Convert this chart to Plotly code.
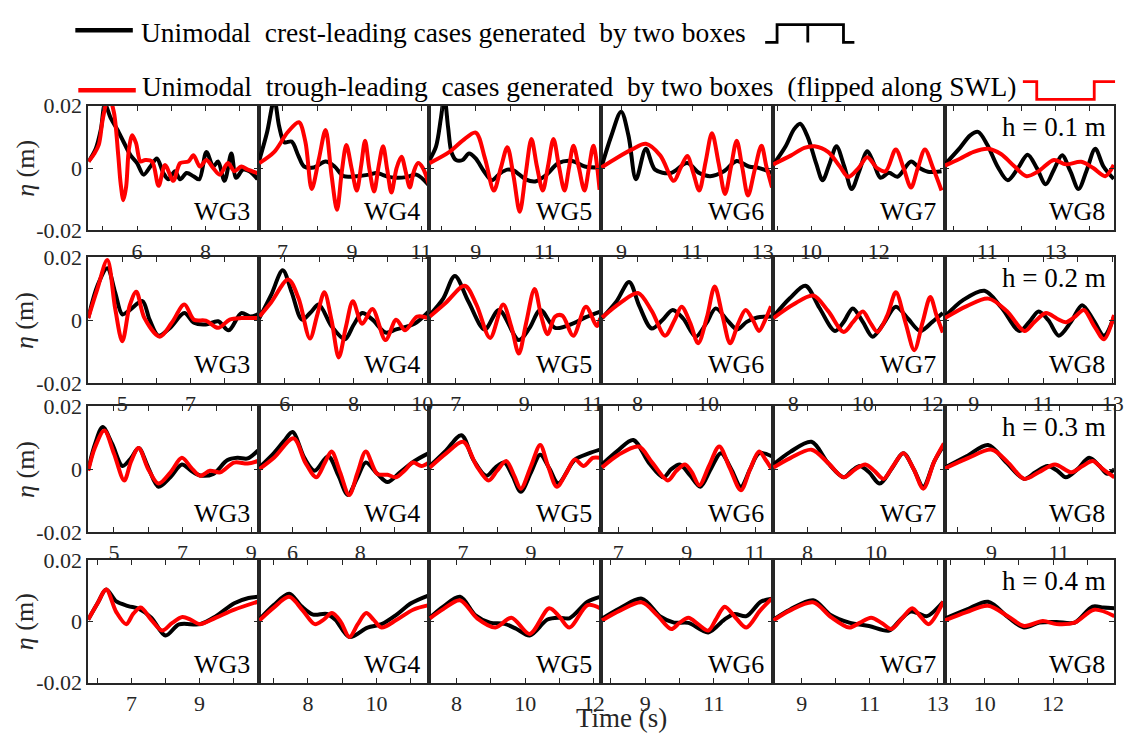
import math
import plotly.graph_objects as go

# ---------------- data ----------------
GAUGES = ["WG3", "WG4", "WG5", "WG6", "WG7", "WG8"]
DEPTHS = ["h = 0.1 m", "h = 0.2 m", "h = 0.3 m", "h = 0.4 m"]

# time-axis ranges (s) per row (water depth), per gauge
X_RANGES_H01 = [[4.57, 9.56], [6.31, 11.23], [7.65, 12.63], [8.41, 13.29], [8.88, 13.94], [9.75, 14.71]]
X_RANGES_H02 = [[4.0, 9.0], [5.24, 10.2], [6.22, 11.23], [6.95, 11.85], [7.42, 12.35], [8.16, 13.04]]
X_RANGES_H03 = [[4.25, 9.22], [5.0, 10.03], [6.0, 11.05], [6.49, 11.52], [7.0, 12.0], [7.61, 12.63]]
X_RANGES_H04 = [[5.72, 10.75], [6.56, 11.54], [7.2, 12.2], [7.7, 12.73], [8.16, 13.2], [8.83, 13.78]]

# labelled time ticks (every integer second carries a tick mark)
X_LABELS_H01 = [[6, 8], [7, 9, 11], [9, 11], [9, 11, 13], [10, 12], [11, 13]]
X_LABELS_H02 = [[5, 7], [6, 8, 10], [7, 9, 11], [8, 10], [8, 10, 12], [9, 11, 13]]
X_LABELS_H03 = [[5, 7, 9], [6, 8], [7, 9], [7, 9, 11], [8, 10], [9, 11]]
X_LABELS_H04 = [[7, 9], [8, 10], [8, 10, 12], [9, 11], [9, 11, 13], [10, 12]]

Y_TICKS = [-0.02, 0, 0.02]
Y_TICK_TEXT = ["-0.02", "0", "0.02"]

# ---- h = 0.1 m : crest-leading (black), eta in mm ----
CREST_T_H01 = [
    [4.58, 4.79, 4.94, 5.06, 5.23, 5.42, 5.61, 5.81, 6.0, 6.19, 6.39, 6.58, 6.77, 6.92, 7.11, 7.26, 7.45, 7.65, 7.82, 8.03, 8.23, 8.37, 8.56, 8.76, 8.9, 9.1, 9.29, 9.53],
    [6.33, 6.55, 6.76, 6.9, 7.05, 7.26, 7.45, 7.62, 7.9, 8.24, 8.5, 8.76, 9.14, 9.5, 9.71, 10.1, 10.57, 10.86, 11.22],
    [7.66, 7.85, 7.99, 8.09, 8.2, 8.3, 8.43, 8.62, 8.81, 9.0, 9.24, 9.47, 9.72, 9.92, 10.11, 10.45, 10.73, 11.06, 11.4, 11.8, 12.17, 12.58],
    [8.43, 8.71, 8.99, 9.2, 9.41, 9.69, 9.95, 10.39, 10.86, 11.2, 11.51, 11.9, 12.26, 12.6, 12.9, 13.26],
    [8.88, 9.25, 9.5, 9.68, 9.9, 10.15, 10.34, 10.55, 10.75, 10.98, 11.2, 11.42, 11.66, 11.85, 12.05, 12.3, 12.55, 12.95, 13.2, 13.45, 13.85],
    [9.76, 10.2, 10.5, 10.73, 11.0, 11.3, 11.6, 11.9, 12.18, 12.45, 12.71, 12.95, 13.19, 13.43, 13.67, 13.9, 14.16, 14.4, 14.7],
]
CREST_MM_H01 = [
    [2.1, 6.2, 12.4, 20.5, 16.0, 12.4, 8.3, 4.1, 1.6, -2.1, 0.5, 3.1, -1.6, -3.6, -1.0, -3.6, -1.6, -2.6, -3.6, 5.2, 0.5, 2.1, -4.1, 4.7, -3.1, -0.5, -1.0, -3.6],
    [2.6, 11.4, 22.0, 13.4, 8.3, 8.5, 4.1, 0.5, 0.2, 2.1, 0.5, -2.6, -2.6, -2.1, -1.6, -2.9, -2.9, -2.1, -5.5],
    [2.6, 7.0, 16.0, 23.0, 13.0, 5.0, 2.6, 2.6, 4.7, 3.1, -1.0, -3.9, -1.6, -0.5, -0.8, -3.6, -4.3, -2.1, 1.6, 2.3, 0.5, 0.2],
    [0.2, 10.3, 18.1, 10.3, -3.6, 6.2, -0.5, -1.6, 1.6, -1.6, -2.6, -1.0, 2.3, 0.5, 0.0, -1.6],
    [1.0, 7.0, 12.5, 14.2, 10.0, 1.5, -3.9, 1.5, 7.0, 0.5, -6.7, -1.0, 5.4, 1.5, -3.1, -1.5, -2.8, 2.1, 0.0, -1.2, -1.0],
    [1.2, 6.5, 10.5, 11.6, 7.5, 0.5, -3.9, 0.0, 4.3, 0.0, -5.2, -0.5, 4.1, -1.0, -6.7, -1.0, 6.2, 0.5, -3.5],
]
# ---- h = 0.1 m : trough-leading, flipped along SWL (red) ----
TROUGH_T_H01 = [
    [4.58, 4.74, 4.88, 5.0, 5.17, 5.32, 5.45, 5.52, 5.6, 5.68, 5.76, 5.86, 5.97, 6.10, 6.24, 6.44, 6.63, 6.82, 7.06, 7.26, 7.50, 7.65, 7.84, 8.03, 8.23, 8.42, 8.66, 8.85, 9.05, 9.24, 9.53],
    [6.33, 6.76, 7.14, 7.47, 7.66, 7.84, 8.05, 8.24, 8.41, 8.57, 8.71, 8.84, 8.99, 9.14, 9.27, 9.38, 9.50, 9.64, 9.77, 9.90, 10.02, 10.14, 10.29, 10.43, 10.55, 10.67, 10.79, 10.91, 11.05, 11.22],
    [7.66, 8.24, 8.62, 9.0, 9.27, 9.53, 9.73, 9.92, 10.1, 10.28, 10.45, 10.62, 10.78, 10.95, 11.1, 11.26, 11.42, 11.58, 11.71, 11.84, 12.0, 12.16, 12.29, 12.42, 12.6],
    [8.43, 8.9, 9.3, 9.69, 10.1, 10.48, 10.67, 10.86, 11.03, 11.2, 11.38, 11.56, 11.75, 11.93, 12.1, 12.26, 12.42, 12.58, 12.77, 12.96, 13.1, 13.26],
    [8.88, 9.4, 9.8, 10.1, 10.5, 10.85, 11.1, 11.4, 11.66, 11.95, 12.2, 12.5, 12.73, 12.95, 13.15, 13.36, 13.6, 13.85],
    [9.76, 10.2, 10.6, 11.02, 11.4, 11.8, 12.15, 12.5, 12.95, 13.3, 13.75, 14.1, 14.45, 14.7],
]
TROUGH_MM_H01 = [
    [2.1, 4.5, 7.5, 16.0, 23.0, 18.0, 4.0, -5.0, -10.3, -6.0, 6.0, 10.5, 8.0, 2.1, 2.6, 2.1, -5.7, 1.0, -4.1, 1.6, 2.1, 4.1, 0.5, 2.6, 0.0, -2.1, 1.6, -1.0, 0.5, -0.5, -1.6],
    [1.6, 5.2, 11.4, 14.7, 8.3, -6.7, 3.1, 12.2, -2.1, -13.4, -1.0, 7.4, 0.0, -7.2, 1.0, 8.8, 0.0, -7.5, 0.5, 7.0, -0.5, -7.8, 0.0, 3.6, -1.0, -6.2, -1.0, 1.6, 0.0, -5.2],
    [1.6, 5.2, 8.8, 11.4, 3.1, -7.2, 0.0, 6.7, -2.6, -14.0, -2.1, 9.3, 0.5, -7.2, 0.5, 9.3, 0.5, -7.2, 0.0, 7.2, 0.0, -7.2, 0.0, 7.2, -7.0],
    [0.2, 3.5, 6.0, 7.8, 4.0, -4.1, 0.0, 3.9, -1.5, -7.2, 2.0, 11.2, 1.5, -8.3, 0.5, 8.8, 0.0, -8.8, -0.5, 7.2, 0.5, -6.2],
    [1.2, 4.0, 6.5, 7.0, 5.2, 0.5, -2.8, 0.0, 3.5, 0.0, -1.0, 6.0, 0.0, -6.2, 0.0, 6.0, 0.0, -7.2],
    [0.8, 3.0, 5.2, 6.2, 4.5, 0.5, -2.6, -1.0, 2.6, 1.2, 2.0, 0.0, -2.6, 1.0],
]

# ---- h = 0.2 m ----
CREST_T_H02 = [
    [4.0, 4.27, 4.56, 4.79, 5.0, 5.22, 5.59, 5.8, 6.06, 6.4, 6.82, 7.1, 7.45, 7.81, 8.12, 8.49, 8.75, 8.97],
    [5.26, 5.6, 5.94, 6.2, 6.5, 6.75, 6.99, 7.36, 7.75, 8.0, 8.25, 8.55, 8.93, 9.24, 9.77, 10.18],
    [6.24, 6.63, 6.97, 7.37, 7.84, 8.26, 8.84, 9.15, 9.47, 9.9, 10.43, 10.8, 11.22],
    [6.99, 7.4, 7.76, 8.05, 8.4, 8.7, 9.0, 9.3, 9.65, 9.95, 10.22, 10.55, 10.83, 11.1, 11.4, 11.81],
    [7.43, 7.9, 8.35, 8.75, 9.2, 9.45, 9.71, 10.0, 10.28, 10.6, 10.95, 11.3, 11.65, 12.0, 12.3],
    [8.17, 8.7, 9.31, 9.8, 10.32, 10.6, 10.87, 11.15, 11.45, 11.8, 12.12, 12.45, 12.75, 13.04],
]
CREST_MM_H02 = [
    [0.7, 11.0, 16.6, 8.9, 1.9, 3.3, 6.1, 0.2, -4.9, -2.4, 2.3, -0.8, -1.3, -0.3, -3.2, 2.3, 1.2, 1.9],
    [0.7, 8.0, 15.9, 8.9, 0.2, 2.5, 5.0, -1.9, -6.0, -1.5, 2.3, 0.2, -3.9, -2.9, -1.1, 2.8],
    [1.7, 6.9, 14.1, 5.9, -2.9, 3.3, -6.3, -2.5, 3.3, -2.4, -1.0, 1.0, 2.8],
    [0.7, 6.0, 12.2, 4.5, -2.6, 0.0, 3.3, 0.5, -5.2, -1.0, 3.8, 0.0, -2.9, -0.5, 0.9, 1.2],
    [1.2, 7.0, 11.0, 4.0, -3.4, -0.5, 3.8, -0.5, -5.2, -1.0, 4.3, 0.5, -3.4, -0.5, 2.3],
    [1.2, 6.5, 9.4, 4.0, -3.4, -0.5, 2.8, 0.0, -4.9, -0.5, 4.8, 0.0, -4.9, 1.2],
]
TROUGH_T_H02 = [
    [4.0, 4.27, 4.56, 4.79, 5.0, 5.22, 5.41, 5.65, 6.1, 6.45, 6.82, 7.1, 7.45, 7.81, 8.15, 8.5, 8.97],
    [5.26, 5.6, 6.1, 6.4, 6.73, 6.95, 7.15, 7.36, 7.57, 7.78, 7.98, 8.25, 8.55, 8.93, 9.24, 9.5, 9.85, 10.18],
    [6.24, 6.7, 7.26, 7.6, 8.0, 8.38, 8.62, 8.84, 9.05, 9.3, 9.5, 9.68, 9.9, 10.11, 10.43, 10.8, 11.12, 11.22],
    [6.99, 7.5, 8.01, 8.4, 8.78, 9.05, 9.25, 9.5, 9.72, 9.97, 10.19, 10.42, 10.63, 10.86, 11.07, 11.28, 11.45, 11.62, 11.79],
    [7.43, 8.0, 8.57, 9.0, 9.45, 9.72, 10.0, 10.2, 10.42, 10.7, 10.95, 11.22, 11.48, 11.72, 11.94, 12.12, 12.3],
    [8.17, 8.8, 9.42, 9.95, 10.46, 10.75, 11.08, 11.4, 11.65, 11.9, 12.17, 12.45, 12.75, 13.04],
]
TROUGH_MM_H02 = [
    [0.7, 10.0, 19.2, 3.8, -6.7, 4.8, 9.1, 0.7, -5.2, -0.8, 5.0, 0.2, -0.1, -2.4, 0.2, 0.7, 0.7],
    [1.2, 5.7, 13.0, 7.0, -5.8, 2.0, 8.9, 0.0, -11.8, -2.0, 6.1, -1.1, 3.6, -6.3, 0.2, -3.2, 1.2, 0.7],
    [1.2, 5.5, 11.0, 5.0, -5.6, 5.0, -2.0, -10.6, -1.0, 10.0, 1.0, -4.4, 1.2, 1.5, -4.9, 4.3, -1.8, 0.7],
    [0.9, 5.5, 8.7, 3.0, -4.9, 0.0, 4.3, -1.0, -7.3, 1.0, 10.8, 1.0, -7.3, -1.0, 3.3, 0.0, -3.4, 0.0, 4.5],
    [0.7, 5.0, 7.9, 3.0, -3.7, -0.5, 2.8, -0.5, -3.7, 1.5, 8.9, -0.5, -9.5, -0.5, 7.4, 1.5, -3.9],
    [0.7, 4.5, 6.9, 3.0, -3.4, -0.5, 2.3, 0.5, -0.6, 1.0, 3.3, -1.5, -6.0, 1.7],
]

# ---- h = 0.3 m ----
CREST_T_H03 = [
    [4.25, 4.45, 4.67, 4.95, 5.25, 5.5, 5.72, 6.0, 6.3, 6.65, 6.98, 7.25, 7.51, 7.9, 8.3, 8.6, 8.9, 9.2],
    [5.02, 5.45, 5.75, 6.0, 6.35, 6.65, 7.05, 7.35, 7.63, 7.9, 8.16, 8.5, 8.8, 9.17, 9.6, 10.02],
    [6.02, 6.5, 6.95, 7.3, 7.68, 7.95, 8.21, 8.45, 8.7, 9.0, 9.27, 9.55, 9.8, 10.29, 10.7, 11.03],
    [6.53, 7.0, 7.44, 7.9, 8.32, 8.55, 8.8, 9.1, 9.4, 9.7, 10.0, 10.3, 10.58, 10.85, 11.11, 11.48],
    [7.01, 7.5, 8.12, 8.6, 9.06, 9.3, 9.53, 9.8, 10.11, 10.45, 10.8, 11.1, 11.38, 11.7, 11.98],
    [7.62, 8.26, 8.9, 9.45, 9.97, 10.3, 10.66, 10.95, 11.2, 11.55, 11.89, 12.2, 12.43, 12.64],
]
CREST_MM_H03 = [
    [0.0, 8.0, 13.4, 8.0, 1.0, 3.5, 6.7, 0.5, -5.6, -2.5, 1.5, -0.5, -2.0, -1.5, 2.8, 3.6, 3.4, 6.0],
    [0.5, 5.1, 9.0, 11.8, 3.5, -0.5, 4.1, -2.0, -8.2, -3.0, 2.1, -1.5, -4.1, -1.0, 2.6, 5.1],
    [1.0, 6.0, 10.8, 3.0, -2.1, 0.5, 2.1, -2.0, -7.2, -1.0, 4.6, 0.0, -4.5, 3.0, 5.0, 6.2],
    [1.5, 6.0, 9.3, 2.0, -2.6, 0.0, 1.5, -2.0, -5.6, 0.0, 5.1, 0.0, -5.6, 0.0, 5.1, 4.1],
    [1.5, 5.5, 8.7, 2.0, -2.6, -0.5, 1.0, -1.0, -4.6, 0.0, 5.1, 0.0, -5.6, 2.5, 7.7],
    [0.5, 4.1, 7.7, 2.0, -3.1, -1.0, 1.0, -0.5, -2.6, 0.0, 3.6, 1.0, -1.5, 0.0],
]
TROUGH_T_H03 = [
    [4.25, 4.45, 4.72, 5.0, 5.3, 5.5, 5.72, 6.0, 6.3, 6.65, 6.98, 7.25, 7.51, 7.8, 8.1, 8.5, 8.9, 9.2],
    [5.02, 5.45, 6.03, 6.38, 6.7, 6.95, 7.15, 7.4, 7.67, 7.92, 8.16, 8.5, 8.8, 9.05, 9.3, 9.55, 9.8, 10.02],
    [6.02, 6.5, 7.0, 7.4, 7.75, 8.0, 8.27, 8.5, 8.7, 9.0, 9.27, 9.5, 9.76, 10.05, 10.29, 10.55, 10.82, 11.03],
    [6.53, 7.0, 7.6, 8.0, 8.45, 8.7, 8.95, 9.15, 9.37, 9.65, 9.95, 10.25, 10.58, 10.85, 11.11, 11.3, 11.48],
    [7.01, 7.5, 8.12, 8.6, 9.06, 9.4, 9.69, 9.95, 10.22, 10.5, 10.8, 11.1, 11.38, 11.7, 11.98],
    [7.62, 8.3, 9.01, 9.5, 9.97, 10.4, 10.88, 11.36, 11.7, 12.0, 12.3, 12.64],
]
TROUGH_MM_H03 = [
    [-0.5, 7.0, 12.3, 5.0, -3.6, 2.5, 6.7, 0.0, -4.6, -1.0, 3.6, 0.5, -2.1, -0.5, -1.0, 2.1, 1.8, 2.6],
    [0.0, 3.6, 9.8, 2.0, -2.6, 2.0, 5.6, -1.0, -8.2, -1.0, 5.6, -1.5, -1.8, -2.6, -0.5, 2.1, 1.0, 2.1],
    [0.5, 5.0, 8.7, 1.0, -3.6, -0.5, 2.6, -2.0, -6.2, 1.0, 7.7, 1.0, -5.6, -1.0, 3.1, 1.0, 3.6, 3.6],
    [0.5, 4.5, 7.2, 2.0, -3.6, -0.5, 1.5, -1.0, -5.1, 1.0, 7.2, 0.5, -6.7, 0.0, 5.6, 3.0, 0.0],
    [0.5, 3.5, 6.2, 2.0, -2.6, 0.0, 1.5, -0.5, -3.1, 1.0, 5.1, 0.0, -6.2, 2.5, 8.2],
    [0.2, 3.5, 6.2, 2.0, -3.1, -1.0, 1.5, -1.0, 1.0, 2.6, 0.0, -2.6],
]

# ---- h = 0.4 m ----
CREST_T_H04 = [
    [5.72, 6.0, 6.25, 6.55, 6.9, 7.21, 7.58, 8.0, 8.4, 9.02, 9.49, 10.03, 10.45, 10.72],
    [6.58, 7.0, 7.45, 7.8, 8.15, 8.55, 8.8, 9.21, 9.74, 10.15, 10.59, 11.01, 11.53],
    [7.22, 7.61, 8.1, 8.55, 8.97, 9.4, 9.75, 10.13, 10.65, 11.0, 11.29, 11.82, 12.18],
    [7.74, 8.26, 8.9, 9.45, 9.84, 10.26, 10.84, 11.3, 11.6, 11.95, 12.37, 12.69],
    [8.17, 8.65, 9.34, 9.85, 10.4, 10.98, 11.57, 11.9, 12.2, 12.45, 12.68, 13.16],
    [8.84, 9.47, 10.1, 10.7, 11.15, 11.6, 12.1, 12.63, 13.15, 13.47, 13.79],
]
CREST_MM_H04 = [
    [0.6, 6.0, 10.4, 6.5, 5.0, 4.1, 1.2, -4.6, -1.0, -0.9, 1.7, 5.9, 7.6, 8.0],
    [0.6, 5.3, 9.0, 5.0, 2.2, 2.4, 0.5, -5.1, -2.0, -0.9, 2.2, 5.9, 8.5],
    [1.2, 4.8, 8.0, 2.0, -0.4, -0.8, -2.5, -4.6, 0.6, 1.2, 1.0, 6.4, 8.0],
    [0.9, 4.3, 7.4, 1.5, -0.4, -0.5, -3.6, 0.5, 2.4, 1.7, 6.4, 7.4],
    [0.6, 3.8, 6.9, 2.1, -0.4, -1.5, -3.0, 0.5, 3.2, 2.5, 1.7, 6.4],
    [0.9, 3.8, 6.4, 1.2, -2.0, -0.4, -0.2, -0.4, 4.8, 4.5, 4.3],
]
TROUGH_T_H04 = [
    [5.72, 6.0, 6.25, 6.55, 6.84, 7.05, 7.27, 7.58, 7.9, 8.2, 8.5, 8.75, 9.02, 9.49, 10.03, 10.72],
    [6.58, 7.0, 7.45, 7.85, 8.2, 8.45, 8.7, 8.95, 9.21, 9.45, 9.7, 9.92, 10.15, 10.59, 11.07, 11.53],
    [7.22, 7.61, 8.1, 8.6, 9.13, 9.6, 10.13, 10.7, 11.0, 11.29, 11.82, 12.18],
    [7.74, 8.26, 8.9, 9.35, 9.76, 10.0, 10.26, 10.55, 10.84, 11.08, 11.32, 11.65, 11.95, 12.35, 12.69],
    [8.17, 8.65, 9.34, 9.85, 10.4, 10.7, 11.04, 11.35, 11.63, 11.95, 12.25, 12.5, 12.73, 13.16],
    [8.84, 9.47, 10.1, 10.7, 11.15, 11.7, 12.1, 12.63, 13.2, 13.79],
]
TROUGH_MM_H04 = [
    [0.6, 6.0, 10.4, 3.0, -0.9, 2.5, 4.5, 0.5, -3.0, -0.5, 1.4, 0.5, -0.9, 1.2, 3.8, 6.4],
    [0.3, 4.5, 8.0, 3.5, -0.9, 0.5, 2.7, 0.0, -5.1, -1.0, 2.7, 0.5, -2.0, 0.5, 3.8, 5.3],
    [1.0, 4.0, 6.9, 1.0, -2.0, 1.2, -4.1, 4.3, 1.5, -2.0, 5.3, 4.3],
    [0.3, 3.5, 6.2, 2.0, -2.5, -0.5, 1.2, -1.0, -3.0, 1.0, 4.8, 1.0, -2.0, 3.5, 7.4],
    [0.3, 3.5, 6.2, 1.5, -2.0, -0.5, 1.2, -0.5, -2.5, 1.0, 4.3, 1.5, -0.9, 6.4],
    [0.3, 3.0, 5.1, 1.5, -1.5, 0.1, -0.9, -0.4, 3.8, 1.7],
]

X_RANGES = [X_RANGES_H01, X_RANGES_H02, X_RANGES_H03, X_RANGES_H04]
X_LABELS = [X_LABELS_H01, X_LABELS_H02, X_LABELS_H03, X_LABELS_H04]
CREST_T = [CREST_T_H01, CREST_T_H02, CREST_T_H03, CREST_T_H04]
CREST_MM = [CREST_MM_H01, CREST_MM_H02, CREST_MM_H03, CREST_MM_H04]
TROUGH_T = [TROUGH_T_H01, TROUGH_T_H02, TROUGH_T_H03, TROUGH_T_H04]
TROUGH_MM = [TROUGH_MM_H01, TROUGH_MM_H02, TROUGH_MM_H03, TROUGH_MM_H04]

# ---------------- layout geometry (pixels) ----------------
W, H = 1131, 746
COL_EDGES = [89, 261, 433, 606, 780, 953, 1124]
ROW_EDGES = [(97, 226), (254, 384), (408, 538), (567, 694)]
FONT = "Liberation Serif"
AXC = "#262626"


def fx(p):
    return p / W


def fy(p):
    return 1 - p / H


fig = go.Figure()
layout = {}
annotations = []

for r in range(4):
    top, bot = ROW_EDGES[r]
    for c in range(6):
        i = r * 6 + c + 1
        xs = "x" if i == 1 else f"x{i}"
        ys = "y" if i == 1 else f"y{i}"
        xkey = "xaxis" if i == 1 else f"xaxis{i}"
        ykey = "yaxis" if i == 1 else f"yaxis{i}"

        fig.add_trace(go.Scatter(
            x=CREST_T[r][c], y=[v / 1000.0 for v in CREST_MM[r][c]],
            xaxis=xs, yaxis=ys, mode="lines",
            line=dict(color="#000000", width=4, shape="spline", smoothing=0.9),
            showlegend=False, hoverinfo="skip"))
        fig.add_trace(go.Scatter(
            x=TROUGH_T[r][c], y=[v / 1000.0 for v in TROUGH_MM[r][c]],
            xaxis=xs, yaxis=ys, mode="lines",
            line=dict(color="#ff0000", width=4, shape="spline", smoothing=0.9),
            showlegend=False, hoverinfo="skip"))

        xr = X_RANGES[r][c]
        tv = list(range(math.ceil(xr[0]), math.floor(xr[1]) + 1))
        tt = [str(t) if t in X_LABELS[r][c] else "" for t in tv]
        layout[xkey] = dict(
            domain=[fx(COL_EDGES[c]), fx(COL_EDGES[c + 1])], range=xr, anchor=ys,
            tickmode="array", tickvals=tv, ticktext=tt,
            ticks="inside", ticklen=5, tickwidth=1.2, tickcolor=AXC,
            showline=True, mirror="ticks", linecolor=AXC, linewidth=1.6,
            showgrid=False, zeroline=False,
            tickfont=dict(family=FONT, size=22, color=AXC), fixedrange=True)
        layout[ykey] = dict(
            domain=[fy(bot), fy(top)], range=[-0.02, 0.02], anchor=xs,
            tickmode="array", tickvals=Y_TICKS, ticktext=Y_TICK_TEXT,
            showticklabels=(c == 0),
            ticks="inside", ticklen=5, tickwidth=1.2, tickcolor=AXC,
            showline=True, mirror="ticks", linecolor=AXC, linewidth=1.6,
            showgrid=False, zeroline=False,
            tickfont=dict(family=FONT, size=22, color=AXC), fixedrange=True)

        annotations.append(dict(
            text=GAUGES[c], xref=f"{xs} domain", yref=f"{ys} domain",
            x=1, y=0, xanchor="right", yanchor="bottom", xshift=-7, yshift=2,
            showarrow=False, font=dict(family=FONT, size=26, color="#000000")))

    annotations.append(dict(
        text=DEPTHS[r], xref="x%d domain" % (r * 6 + 6), yref="y%d domain" % (r * 6 + 6),
        x=1, y=1, xanchor="right", yanchor="top", xshift=-6, yshift=-4,
        showarrow=False, font=dict(family=FONT, size=27, color="#000000")))
    annotations.append(dict(
        text="<i>η</i> (m)", xref="paper", yref="paper",
        x=fx(25), y=fy((top + bot) / 2), xanchor="center", yanchor="middle",
        textangle=-90, showarrow=False,
        font=dict(family=FONT, size=26, color=AXC)))

annotations.append(dict(
    text="Time (s)", xref="paper", yref="paper", x=fx(627), y=fy(730),
    xanchor="center", yanchor="middle", showarrow=False,
    font=dict(family=FONT, size=27, color=AXC)))

# legend (drawn manually, MATLAB-style, with the wave-maker box icons)
LEGEND_TEXT = [
    "Unimodal  crest-leading cases generated  by two boxes",
    "Unimodal  trough-leading  cases generated  by two boxes  (flipped along SWL)",
]
annotations.append(dict(
    text=LEGEND_TEXT[0], xref="paper", yref="paper", x=fx(140), y=fy(21),
    xanchor="left", yanchor="middle", showarrow=False,
    font=dict(family=FONT, size=27.5, color="#000000")))
annotations.append(dict(
    text=LEGEND_TEXT[1], xref="paper", yref="paper", x=fx(141), y=fy(77),
    xanchor="left", yanchor="middle", showarrow=False,
    font=dict(family=FONT, size=27.5, color="#000000")))

shapes = [
    dict(type="line", xref="paper", yref="paper", x0=fx(76), x1=fx(134), y0=fy(19), y1=fy(19),
         line=dict(color="#000000", width=4.5)),
    dict(type="line", xref="paper", yref="paper", x0=fx(79), x1=fx(137), y0=fy(81), y1=fy(81),
         line=dict(color="#ff0000", width=4.5)),
    dict(type="path", xref="paper", yref="paper",
         path="M %f,%f L %f,%f L %f,%f L %f,%f L %f,%f L %f,%f M %f,%f L %f,%f" % (
             fx(772), fy(31.5), fx(784), fy(31.5), fx(784), fy(13), fx(851), fy(13),
             fx(851), fy(31.5), fx(862), fy(31.5), fx(815), fy(13), fx(815), fy(31.5)),
         line=dict(color="#000000", width=2.8)),
    dict(type="path", xref="paper", yref="paper",
         path="M %f,%f L %f,%f L %f,%f L %f,%f L %f,%f L %f,%f" % (
             fx(1032), fy(72), fx(1046), fy(72), fx(1046), fy(90.5), fx(1104), fy(90.5),
             fx(1104), fy(72), fx(1125), fy(72)),
         line=dict(color="#ff0000", width=2.8)),
]

fig.update_layout(
    width=W, height=H,
    margin=dict(l=0, r=0, t=0, b=0, pad=0),
    paper_bgcolor="white", plot_bgcolor="white",
    annotations=annotations, shapes=shapes,
    showlegend=False,
    **layout)

fig.write_html("out.html", config={"displayModeBar": False},
               post_script="document.body.style.margin='0px';")
